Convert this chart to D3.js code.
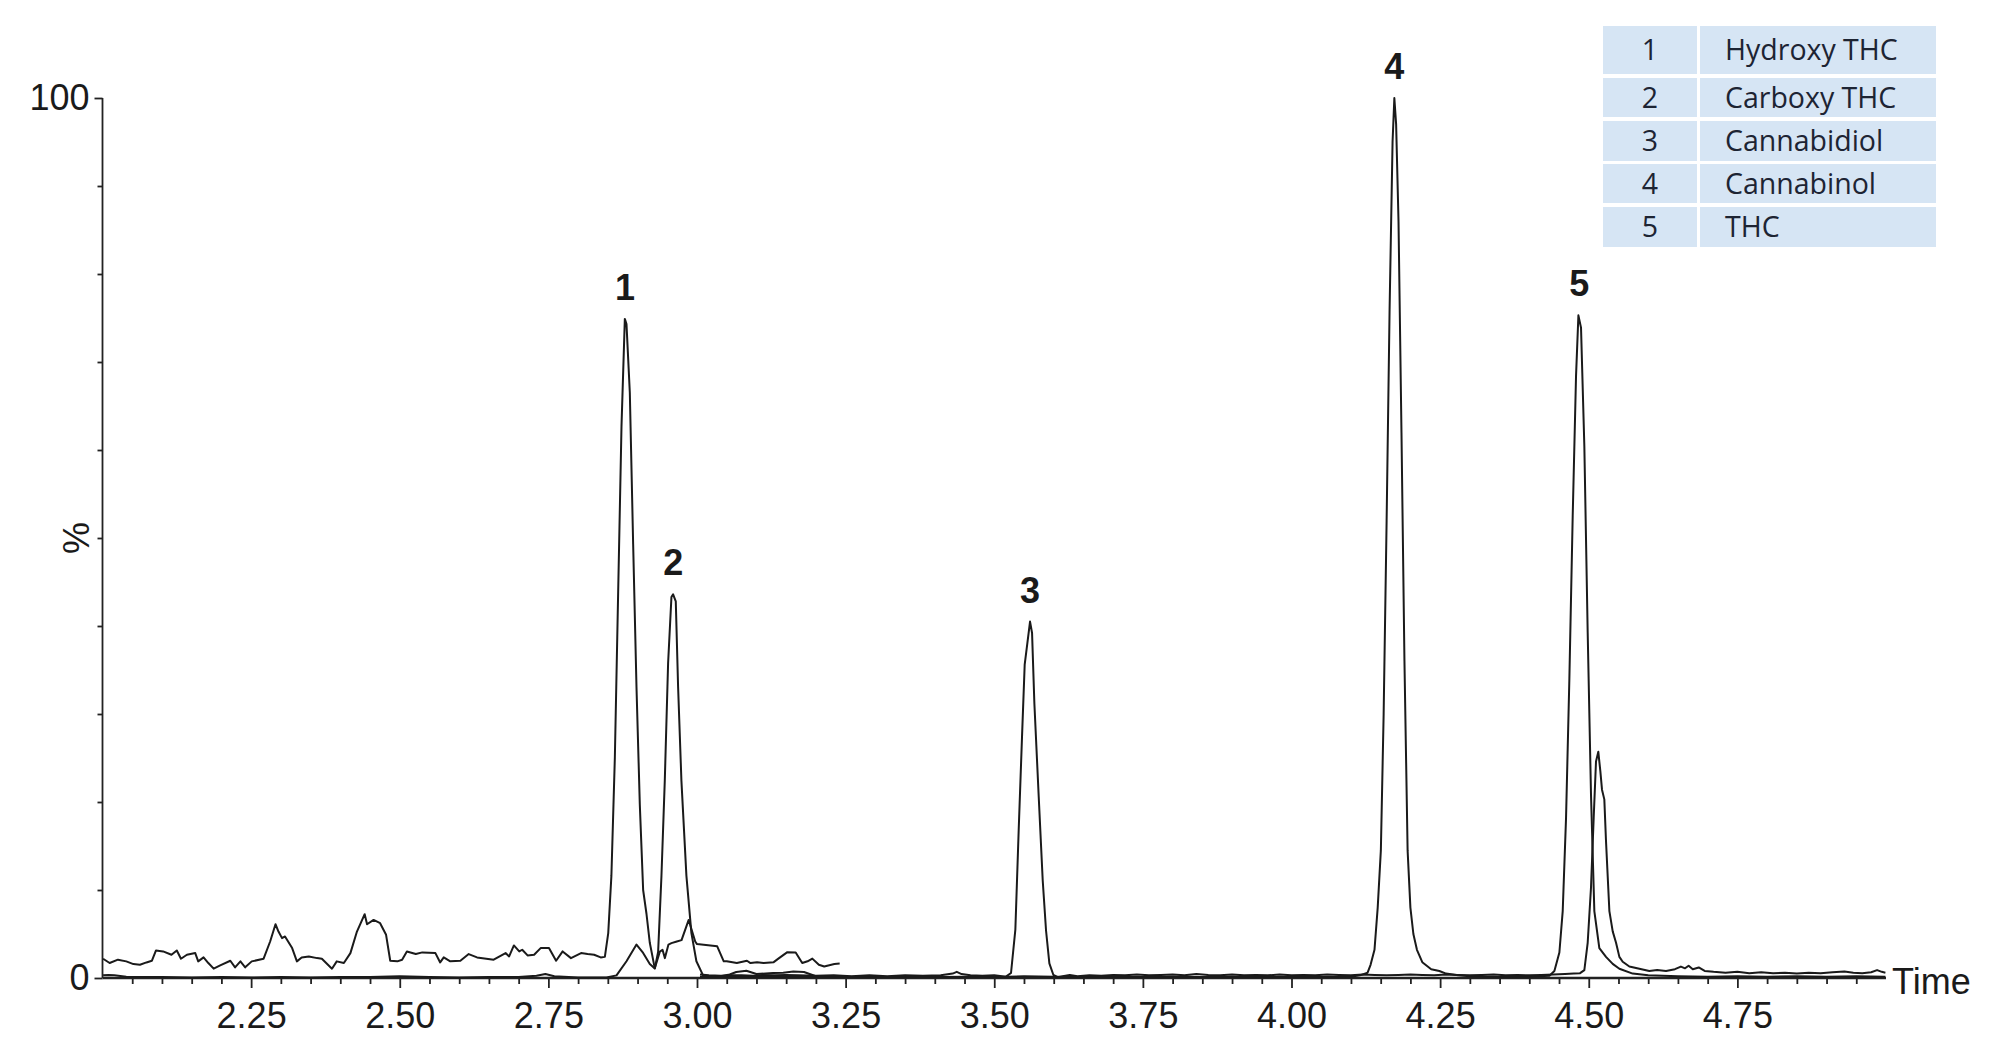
<!DOCTYPE html>
<html>
<head>
<meta charset="utf-8">
<script src="https://cdn.jsdelivr.net/npm/d3@7"></script>
<style>
  body { margin: 0; background: #fff; }
  svg { display: block; }
</style>
</head>
<body>
<svg id="chart" width="2000" height="1059"></svg>
<script>
// ---- data: [time (min), intensity (%)] ----
// channel 1 : Hydroxy THC (window 2.00 - 3.24)
var traceHydroxy = [
  [2.001,2.19],[2.012,1.70],[2.026,2.08],[2.040,1.89],[2.052,1.58],[2.063,1.51],[2.074,1.77],[2.083,1.96],
  [2.090,3.13],[2.102,3.02],[2.116,2.64],[2.125,3.13],[2.132,2.19],[2.142,2.64],[2.156,2.83],[2.161,1.89],
  [2.170,2.34],[2.178,1.70],[2.187,1.06],[2.198,1.43],[2.215,1.96],[2.223,1.21],[2.232,1.89],[2.240,1.21],
  [2.251,1.89],[2.271,2.19],[2.282,4.15],[2.291,6.11],[2.296,5.28],[2.302,4.53],[2.307,4.72],[2.319,3.40],
  [2.327,1.89],[2.335,2.34],[2.347,2.45],[2.361,2.26],[2.369,2.19],[2.386,1.06],[2.394,1.89],[2.406,1.70],
  [2.417,2.83],[2.428,5.28],[2.441,7.25],[2.445,6.11],[2.456,6.60],[2.467,6.23],[2.477,4.91],[2.484,1.96],
  [2.496,1.89],[2.504,2.08],[2.512,3.02],[2.527,2.72],[2.538,2.91],[2.560,2.83],[2.568,1.77],[2.574,2.34],
  [2.585,1.89],[2.602,1.96],[2.616,2.72],[2.630,2.34],[2.658,2.08],[2.678,2.83],[2.684,2.45],[2.692,3.70],
  [2.701,3.02],[2.706,3.21],[2.715,2.57],[2.726,2.64],[2.737,3.40],[2.751,3.40],[2.763,1.96],[2.774,3.02],
  [2.788,2.26],[2.805,2.83],[2.816,2.72],[2.827,2.64],[2.838,2.34],
  [2.845,2.4],[2.8507,5.1],[2.856,11.6],[2.8618,25],[2.8674,43.9],[2.873,62.7],[2.8786,74.9],[2.8814,74.3],
  [2.887,66.5],[2.8926,49.3],[2.8982,33.1],[2.9038,19.7],[2.9094,10],[2.915,7.3],[2.9206,4],[2.929,1.1],
  [2.9375,3.0],[2.942,3.2],[2.946,2.26],[2.952,3.8],[2.957,3.96],[2.966,4.15],[2.974,4.3],[2.986,6.6],
  [2.997,4.15],[3.000,3.85],[3.015,3.75],[3.034,3.6],[3.045,1.9],[3.050,1.9],[3.067,1.7],[3.084,1.96],
  [3.090,1.7],[3.101,1.8],[3.112,1.7],[3.129,1.8],[3.138,2.26],[3.152,2.94],[3.166,2.9],[3.177,1.7],
  [3.186,1.9],[3.194,2.2],[3.205,1.5],[3.214,1.3],[3.231,1.6],[3.240,1.65]
];

// channel 2 : Carboxy THC (window 2.00 - 3.24)
var traceCarboxy = [
  [2.001,0.3],[2.010,0.35],[2.020,0.3],[2.040,0.15],[2.060,0.1],[2.100,0.1],[2.150,0.05],[2.200,0.1],
  [2.250,0.05],[2.300,0.1],[2.350,0.05],[2.400,0.1],[2.450,0.1],[2.500,0.2],[2.550,0.1],[2.600,0.05],
  [2.650,0.1],[2.700,0.1],[2.730,0.25],[2.745,0.45],[2.760,0.2],[2.800,0.05],[2.8478,0.05],[2.8646,0.3],
  [2.8814,1.9],[2.8982,3.8],[2.9094,2.85],[2.9206,1.6],[2.929,1.08],[2.9346,2.96],[2.9402,11.6],[2.9458,22.4],
  [2.9514,35.8],[2.957,43.3],[2.9598,43.6],[2.9643,42.8],[2.9682,33.1],[2.9738,22.4],[2.9822,11.6],[2.9906,5.1],
  [2.999,1.9],[3.0102,0.3],[3.020,0.15],[3.040,0.2],[3.055,0.4],[3.066,0.68],[3.083,0.83],[3.100,0.45],
  [3.128,0.57],[3.145,0.6],[3.162,0.75],[3.180,0.68],[3.200,0.2],[3.220,0.15],[3.240,0.15]
];

// channel 3 : Cannabidiol (window 3.00 - 5.00)
var traceCannabidiol = [
  [3.005,0.4],[3.020,0.3],[3.040,0.25],[3.060,0.3],[3.075,0.3],[3.095,0.25],[3.110,0.35],[3.130,0.3],
  [3.150,0.35],[3.170,0.3],[3.200,0.25],[3.230,0.3],[3.260,0.2],[3.290,0.3],[3.320,0.2],[3.350,0.3],
  [3.380,0.25],[3.410,0.3],[3.430,0.5],[3.437,0.7],[3.445,0.45],[3.460,0.3],[3.480,0.25],[3.500,0.3],
  [3.5197,0.15],[3.5282,0.57],[3.5355,5.5],[3.5411,16.8],[3.5467,27.4],[3.5512,35.6],[3.5602,40.5],[3.5636,39.2],
  [3.5675,31.2],[3.5748,20.6],[3.5815,11.1],[3.5871,5.4],[3.5927,1.67],[3.5995,0.34],[3.6068,0.1],[3.615,0.2],
  [3.627,0.35],[3.640,0.2],[3.660,0.3],[3.680,0.25],[3.700,0.35],[3.720,0.3],[3.740,0.4],[3.760,0.3],
  [3.780,0.35],[3.800,0.4],[3.820,0.3],[3.840,0.45],[3.860,0.35],[3.880,0.3],[3.900,0.4],[3.920,0.3],
  [3.940,0.35],[3.960,0.3],[3.980,0.4],[4.000,0.3],[4.020,0.35],[4.040,0.3],[4.060,0.4],[4.080,0.35],
  [4.100,0.3],[4.120,0.4],[4.140,0.35],[4.160,0.3],[4.180,0.35],[4.200,0.4],[4.220,0.35],[4.240,0.3],
  [4.260,0.4],[4.280,0.35],[4.300,0.3],[4.320,0.35],[4.340,0.4],[4.360,0.3],[4.380,0.35],[4.400,0.3],
  [4.420,0.35],[4.440,0.4],[4.460,0.45],[4.475,0.5],[4.4854,0.55],[4.4926,0.9],[4.4982,4.0],[4.5038,10.3],
  [4.5083,18.2],[4.5122,24.6],[4.5161,25.7],[4.5195,23.5],[4.5223,21.4],[4.5262,20.3],[4.529,15.6],[4.5347,7.6],
  [4.5403,5.3],[4.5459,4.0],[4.5515,2.4],[4.5571,1.85],[4.5683,1.3],[4.5851,1.05],[4.6019,0.8],[4.615,0.9],
  [4.630,0.8],[4.645,1.0],[4.655,1.3],[4.662,1.1],[4.668,1.4],[4.675,1.0],[4.685,1.2],[4.695,0.8],
  [4.710,0.7],[4.730,0.6],[4.750,0.7],[4.770,0.55],[4.790,0.65],[4.810,0.55],[4.830,0.6],[4.850,0.5],
  [4.870,0.6],[4.890,0.55],[4.910,0.65],[4.930,0.75],[4.945,0.6],[4.960,0.55],[4.975,0.65],[4.985,0.9],
  [4.993,0.7],[4.999,0.6]
];

// channel 4/5 : Cannabinol and THC (window 3.00 - 5.00)
var traceCannabinolTHC = [
  [3.005,0.15],[3.030,0.1],[3.060,0.15],[3.090,0.1],[3.120,0.15],[3.150,0.1],[3.180,0.15],[3.210,0.1],
  [3.250,0.15],[3.300,0.1],[3.350,0.15],[3.400,0.1],[3.450,0.15],[3.500,0.1],[3.550,0.2],[3.600,0.15],
  [3.650,0.1],[3.700,0.15],[3.750,0.1],[3.800,0.15],[3.850,0.1],[3.900,0.15],[3.950,0.1],[4.000,0.15],
  [4.050,0.1],[4.100,0.15],[4.115,0.3],[4.128,0.6],[4.133,1.5],[4.1396,3.2],[4.145,8],[4.1503,14.5],
  [4.155,30],[4.160,52],[4.165,76],[4.170,95],[4.173,100],[4.176,97],[4.180,86],[4.185,62],
  [4.190,36],[4.1953,14.5],[4.200,8],[4.205,5],[4.211,3.2],[4.220,1.8],[4.235,1.0],[4.2487,0.8],
  [4.260,0.5],[4.280,0.3],[4.300,0.2],[4.330,0.15],[4.360,0.1],[4.400,0.15],[4.4338,0.26],[4.4422,0.8],
  [4.4506,2.9],[4.4562,7.6],[4.4618,18.2],[4.4674,34],[4.473,52.5],[4.4786,68.4],[4.4826,75.3],[4.487,73.9],
  [4.4926,60.4],[4.4982,39.3],[4.5038,20.8],[4.5094,7.6],[4.5178,3.4],[4.529,2.4],[4.5403,1.6],[4.5515,1.05],
  [4.5739,0.5],[4.600,0.3],[4.650,0.2],[4.700,0.15],[4.750,0.2],[4.800,0.15],[4.850,0.2],[4.900,0.15],
  [4.950,0.2],[4.999,0.15]
];

var traces = [traceHydroxy, traceCarboxy, traceCannabidiol, traceCannabinolTHC];

// peak annotations
var peakLabels  = ["1", "2", "3", "4", "5"];
var peakTimes   = [2.879, 2.960, 3.560, 4.173, 4.484];
var peakHeights = [74.9, 43.6, 40.5, 100, 75.3];

// legend table
var compoundIds   = ["1", "2", "3", "4", "5"];
var compoundNames = ["Hydroxy THC", "Carboxy THC", "Cannabidiol", "Cannabinol", "THC"];

// axis ticks
var xMajorTicks = [2.25, 2.50, 2.75, 3.00, 3.25, 3.50, 3.75, 4.00, 4.25, 4.50, 4.75];
var yLabelTicks = [0, 100];

// ---- drawing ----
var svg = d3.select("#chart");
var axisFont = "'Liberation Sans', Arial, sans-serif";

var x = d3.scaleLinear().domain([2.0, 5.0]).range([102.5, 1886]);
var y = d3.scaleLinear().domain([0, 100]).range([978, 98]);

var xMinor = d3.range(2.05, 4.99, 0.05).map(function(d){ return +d.toFixed(2); })
  .filter(function(d){ return xMajorTicks.indexOf(d) < 0; });

// minor x ticks
svg.append("g")
  .attr("transform", "translate(0," + y(0) + ")")
  .call(d3.axisBottom(x).tickValues(xMinor).tickSize(6).tickFormat(""))
  .call(function(g){ g.select(".domain").remove(); })
  .selectAll("line").attr("stroke", "#222").attr("stroke-width", 1.8);

// major x ticks + labels
var xAxisG = svg.append("g")
  .attr("transform", "translate(0," + y(0) + ")")
  .call(d3.axisBottom(x).tickValues(xMajorTicks).tickSize(10).tickPadding(14)
        .tickFormat(d3.format(".2f")));
xAxisG.select(".domain").remove();
xAxisG.selectAll("line").attr("stroke", "#222").attr("stroke-width", 1.8);
xAxisG.selectAll("text")
  .attr("fill", "#1a1a1a")
  .style("font-family", axisFont)
  .style("font-size", "36px");

// x axis baseline
svg.append("line")
  .attr("x1", x(2.0)).attr("x2", x(5.0))
  .attr("y1", y(0)).attr("y2", y(0))
  .attr("stroke", "#222").attr("stroke-width", 2.4);

// y axis: ticks every 10 %, labels at 0 and 100
var yAxisG = svg.append("g")
  .attr("transform", "translate(" + x(2.0) + ",0)")
  .call(d3.axisLeft(y).tickValues(d3.range(0, 101, 10)).tickSize(5).tickPadding(8)
        .tickFormat(function(d){ return yLabelTicks.indexOf(d) >= 0 ? d : ""; }));
yAxisG.select(".domain").attr("stroke", "#222").attr("stroke-width", 1.8)
  .attr("d", "M0," + y(100) + "V" + y(0));
yAxisG.selectAll(".tick line")
  .attr("stroke", "#222").attr("stroke-width", 1.8)
  .attr("x2", function(d){ return yLabelTicks.indexOf(d) >= 0 ? -8 : -5; });
yAxisG.selectAll("text")
  .attr("fill", "#1a1a1a")
  .attr("x", -13)
  .style("font-family", axisFont)
  .style("font-size", "36px");

// axis titles
svg.append("text")
  .attr("transform", "translate(76," + y(50) + ") rotate(-90)")
  .attr("text-anchor", "middle")
  .attr("dominant-baseline", "central")
  .attr("fill", "#1a1a1a")
  .style("font-family", axisFont)
  .style("font-size", "36px")
  .text("%");

svg.append("text")
  .attr("x", x(5.0) + 6)
  .attr("y", y(0) + 6)
  .attr("dominant-baseline", "middle")
  .attr("fill", "#1a1a1a")
  .style("font-family", axisFont)
  .style("font-size", "36px")
  .text("Time");

// chromatogram traces
var line = d3.line()
  .x(function(d){ return x(d[0]); })
  .y(function(d){ return y(d[1]); });

svg.append("g").selectAll("path")
  .data(traces)
  .enter()
  .append("path")
  .attr("d", line)
  .attr("fill", "none")
  .attr("stroke", "#1a1a1a")
  .attr("stroke-width", 2)
  .attr("stroke-linejoin", "round");

// peak numbers
svg.append("g").selectAll("text")
  .data(peakLabels)
  .enter()
  .append("text")
  .attr("x", function(d, i){ return x(peakTimes[i]); })
  .attr("y", function(d, i){ return y(peakHeights[i]) - 19; })
  .attr("text-anchor", "middle")
  .attr("fill", "#1a1a1a")
  .style("font-family", axisFont)
  .style("font-size", "36px")
  .style("font-weight", "bold")
  .text(function(d){ return d; });

// legend table
var tableX = 1603, col1W = 94, col2X = 1700, tableR = 1936;
var rowTops = [26, 78, 121, 164, 207], rowBottoms = [74, 117, 161, 203, 247];
var legend = svg.append("g").style("font-family", "'Open Sans', 'Noto Sans', sans-serif")
  .style("font-size", "28.5px");

var rows = legend.selectAll("g")
  .data(compoundIds)
  .enter()
  .append("g");

rows.append("rect")
  .attr("x", tableX)
  .attr("y", function(d, i){ return rowTops[i]; })
  .attr("width", col1W)
  .attr("height", function(d, i){ return rowBottoms[i] - rowTops[i]; })
  .attr("fill", "#d6e5f4");

rows.append("rect")
  .attr("x", col2X)
  .attr("y", function(d, i){ return rowTops[i]; })
  .attr("width", tableR - col2X)
  .attr("height", function(d, i){ return rowBottoms[i] - rowTops[i]; })
  .attr("fill", "#d6e5f4");

rows.append("text")
  .attr("x", tableX + col1W / 2)
  .attr("y", function(d, i){ return (rowTops[i] + rowBottoms[i]) / 2 + 10; })
  .attr("text-anchor", "middle")
  .attr("fill", "#1d2433")
  .text(function(d){ return d; });

rows.append("text")
  .attr("x", 1725)
  .attr("y", function(d, i){ return (rowTops[i] + rowBottoms[i]) / 2 + 10; })
  .attr("fill", "#1d2433")
  .text(function(d, i){ return compoundNames[i]; });
</script>
</body>
</html>
